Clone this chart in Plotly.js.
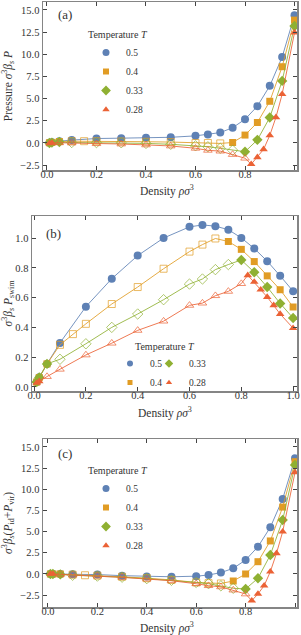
<!DOCTYPE html>
<html><head><meta charset="utf-8">
<script src="https://cdn.plot.ly/plotly-3.0.1.min.js"></script>
<style>html,body{margin:0;padding:0;background:#fff}#chart{width:301px;height:635px}</style>
</head><body><div id="chart"></div>
<script>
// ---- data ----
const temperatures = ['0.5', '0.4', '0.33', '0.28'];

const rho05  = [0.01,0.02,0.05,0.1,0.2,0.3,0.4,0.5,0.6,0.65,0.7,0.75,0.8,0.85,0.9,0.95,1.0];
const rho04  = [0.01,0.02,0.05,0.1,0.15,0.2,0.3,0.4,0.5,0.6,0.65,0.7,0.75,0.8,0.85,0.9,0.95,1.0];
const rho033 = [0.01,0.02,0.05,0.1,0.2,0.3,0.4,0.5,0.6,0.65,0.7,0.75,0.8,0.85,0.9,0.95,1.0];
const rho028 = [0.01,0.02,0.05,0.1,0.2,0.3,0.4,0.5,0.6,0.65,0.7,0.75,0.8,0.825,0.85,0.875,0.9,0.925,0.95,1.0];

// 1 = filled marker (stable), 0 = open marker
const stable05  = [1,1,1,1,1,1,1,1,1,1,1,1,1,1,1,1,1];
const stable04  = [1,1,1,0,0,0,0,0,0,0,0,0,1,1,1,1,1,1];
const stable033 = [1,1,1,0,0,0,0,0,0,0,0,0,1,1,1,1,1];
const stable028 = [1,1,0,0,0,0,0,0,0,0,0,0,0,1,1,1,1,1,1,1];

// (a) total pressure
const pressure05  = [0.03,0.08,0.2,0.32,0.5,0.54,0.58,0.64,0.8,0.95,1.17,1.72,2.67,4.15,6.44,9.69,14.4];
const pressure04  = [0.02,0.06,0.16,0.2,0.2,0.2,0.17,0.14,0.1,0.0,0.0,-0.05,0.05,0.89,2.31,4.7,8.6,13.86];
const pressure033 = [0.0,0.04,0.1,0.05,0.04,0.02,-0.05,-0.15,-0.32,-0.43,-0.6,-0.82,-0.99,0.35,2.87,7.0,13.2];
const pressure028 = [-0.05,0.0,0.02,0.0,-0.08,-0.12,-0.22,-0.34,-0.6,-0.83,-0.92,-1.3,-1.72,-2.4,-1.62,-0.72,0.85,2.9,5.5,12.45];

// (b) swim pressure
const swim05  = [0.033,0.065,0.155,0.296,0.539,0.727,0.882,1.0,1.075,1.088,1.08,1.056,1.001,0.93,0.845,0.746,0.643];
const swim04  = [0.033,0.063,0.155,0.283,0.355,0.424,0.557,0.671,0.794,0.909,0.956,0.997,0.977,0.924,0.842,0.746,0.653,0.537];
const swim033 = [0.033,0.064,0.155,0.186,0.29,0.40,0.49,0.586,0.691,0.725,0.788,0.822,0.853,0.77,0.671,0.561,0.463];
const swim028 = [0.027,0.038,0.07,0.119,0.215,0.294,0.38,0.442,0.548,0.563,0.613,0.642,0.694,0.75,0.705,0.653,0.604,0.548,0.49,0.395];

// (c) ideal + virial pressure
const idvir05  = [0.0,0.0,0.0,-0.02,-0.07,-0.2,-0.3,-0.33,-0.26,-0.12,0.16,0.67,1.65,3.22,5.51,8.86,13.66];
const idvir04  = [0.0,0.0,0.0,-0.08,-0.15,-0.2,-0.33,-0.5,-0.7,-1.0,-1.08,-1.12,-0.83,0.0,1.45,3.9,7.9,13.26];
const idvir033 = [0.0,0.0,-0.05,-0.15,-0.25,-0.38,-0.55,-0.75,-1.0,-1.15,-1.4,-1.69,-1.77,-0.51,2.24,6.37,12.87];
const idvir028 = [0.0,0.0,-0.05,-0.12,-0.25,-0.4,-0.6,-0.8,-1.15,-1.38,-1.52,-1.9,-2.36,-3.15,-2.36,-1.38,0.27,2.44,4.99,12.0];

// ---- styling ----
const W = 301, H = 635;
const FONT = '"Liberation Serif", "DejaVu Serif", serif';
const colors  = ['#5E81B5', '#E19C24', '#8FB032', '#EB6235'];
const symbols = ['circle', 'square', 'diamond', 'triangle-up'];
const msizes  = [8, 7, 8, 7.5];
const legSizes = [7, 6, 7.5, 6.5];
const legSizesB = [6, 5, 6.5, 5.5];
const rhos    = [rho05, rho04, rho033, rho028];
const stables = [stable05, stable04, stable033, stable028];

function fade(hex, a) {
  const n = parseInt(hex.slice(1), 16);
  return 'rgba(' + ((n >> 16) & 255) + ',' + ((n >> 8) & 255) + ',' + (n & 255) + ',' + a + ')';
}

const panels = [
  {vals: [pressure05, pressure04, pressure033, pressure028], xa: 'x',  ya: 'y',  legends: ['legend','legend','legend','legend'], ls: legSizes},
  {vals: [swim05, swim04, swim033, swim028],                 xa: 'x2', ya: 'y2', legends: ['legend2','legend2','legend3','legend3'], ls: legSizesB},
  {vals: [idvir05, idvir04, idvir033, idvir028],             xa: 'x3', ya: 'y3', legends: ['legend4','legend4','legend4','legend4'], ls: legSizes}
];

const traces = [];
panels.forEach(p => {
  for (let i = 0; i < 4; i++) {
    const st = stables[i];
    const mcol = st.map(s => s ? colors[i] : fade(colors[i], 0.7));
    traces.push({
      type: 'scatter', mode: 'lines+markers',
      x: rhos[i], y: p.vals[i],
      xaxis: p.xa, yaxis: p.ya,
      name: temperatures[i], showlegend: false,
      line: {color: fade(colors[i], 0.85), width: 1},
      marker: {
        symbol: st.map(s => s ? symbols[i] : symbols[i] + '-open'),
        size: msizes[i], color: mcol,
        line: {color: mcol, width: st.map(s => s ? 0 : 1)}
      },
      hoverinfo: 'skip'
    });
  }
  // legend entries (marker only, no data)
  for (let i = 0; i < 4; i++) {
    traces.push({
      type: 'scatter', mode: 'markers', x: [null], y: [null],
      xaxis: p.xa, yaxis: p.ya,
      name: temperatures[i], legend: p.legends[i], legendrank: i + 1, showlegend: true,
      marker: {symbol: symbols[i], size: p.ls[i], color: colors[i]},
      hoverinfo: 'skip'
    });
  }
});

const axCommon = {
  showline: true, mirror: 'ticks', linecolor: '#858585', linewidth: 1.5,
  ticks: 'inside', ticklen: 4, tickwidth: 1, tickcolor: '#444',
  showgrid: false, zeroline: false,
  tickfont: {family: FONT, size: 10.5, color: '#333'}
};
const xCommon = Object.assign({}, axCommon, {tickmode: 'linear', tick0: 0, dtick: 0.2, tickformat: '.1f', ticklabelstandoff: -6});
const yTitleFont = {family: FONT, size: 11.5, color: '#333'};

const legCommon = {
  bgcolor: 'rgba(0,0,0,0)', borderwidth: 0, xanchor: 'left', yanchor: 'top',
  font: {family: FONT, size: 9.5, color: '#333'}, tracegroupgap: 0, itemwidth: 30
};
const legTitle = {text: 'Temperature <i>T</i>', font: {family: FONT, size: 10, color: '#333'}};

function paperText(text, xpx, ypx, size, anchor) {
  return {text: text, xref: 'paper', yref: 'paper', x: xpx / W, y: 1 - ypx / H,
          xanchor: anchor || 'center', yanchor: 'middle', showarrow: false,
          font: {family: FONT, size: size, color: '#333'}};
}
const densityTitle = 'Density <i>ρσ</i><sup>3</sup>';

const layout = {
  width: W, height: H, margin: {l: 0, r: 0, t: 0, b: 0},
  paper_bgcolor: '#fff', plot_bgcolor: '#fff',
  font: {family: FONT, color: '#333'},
  showlegend: true,
  xaxis:  Object.assign({}, xCommon, {domain: [43/W, 297/W], range: [-0.016, 1.010], anchor: 'y'}),
  yaxis:  Object.assign({}, axCommon, {domain: [1 - 170/H, 1 - 2/H], range: [-3.05, 15.9], anchor: 'x',
           tickmode: 'linear', tick0: 0, dtick: 2.5, tickformat: '.1f',
           title: {text: 'Pressure <i>σ</i><sup>3</sup><i>β</i><sub><i>s</i></sub> <i>P</i>', font: yTitleFont}}),
  xaxis2: Object.assign({}, xCommon, {domain: [32/W, 297/W], range: [-0.008, 1.015], anchor: 'y2'}),
  yaxis2: Object.assign({}, axCommon, {domain: [1 - 391/H, 1 - 216/H], range: [-0.027, 1.148], anchor: 'x2',
           tickmode: 'linear', tick0: 0, dtick: 0.2, tickformat: '.1f',
           title: {text: '<i>σ</i><sup>3</sup><i>β</i><sub><i>s</i></sub> <i>P</i><sub>swim</sub>', font: yTitleFont}}),
  xaxis3: Object.assign({}, xCommon, {domain: [43/W, 297/W], range: [-0.02, 1.008], anchor: 'y3'}),
  yaxis3: Object.assign({}, axCommon, {domain: [1 - 607/H, 1 - 439/H], range: [-3.9, 15.94], anchor: 'x3',
           tickmode: 'linear', tick0: 0, dtick: 2.5, tickformat: '.1f',
           title: {text: '<i>σ</i><sup>3</sup><i>β</i><sub><i>s</i></sub>(<i>P</i><sub>id</sub>+<i>P</i><sub>vir</sub>)', font: yTitleFont}}),
  legend:  Object.assign({}, legCommon, {x: 86/W, y: 1 - 25/H, title: legTitle}),
  legend2: Object.assign({}, legCommon, {x: 110/W, y: 1 - 349/H}),
  legend3: Object.assign({}, legCommon, {x: 149/W, y: 1 - 349/H}),
  legend4: Object.assign({}, legCommon, {x: 86/W, y: 1 - 461/H, title: legTitle}),
  annotations: [
    paperText('(a)', 56, 15, 13, 'left'),
    paperText('(b)', 44, 234, 13, 'left'),
    paperText('(c)', 56, 453, 13, 'left'),
    paperText('Temperature <i>T</i>', 165, 346, 10),
    paperText(densityTitle, 167, 190, 11.5),
    paperText(densityTitle, 165, 412, 11.5),
    paperText(densityTitle, 167, 627, 11.5)
  ]
};

Plotly.newPlot('chart', traces, layout, {displayModeBar: false, staticPlot: true});
</script>
</body></html>
